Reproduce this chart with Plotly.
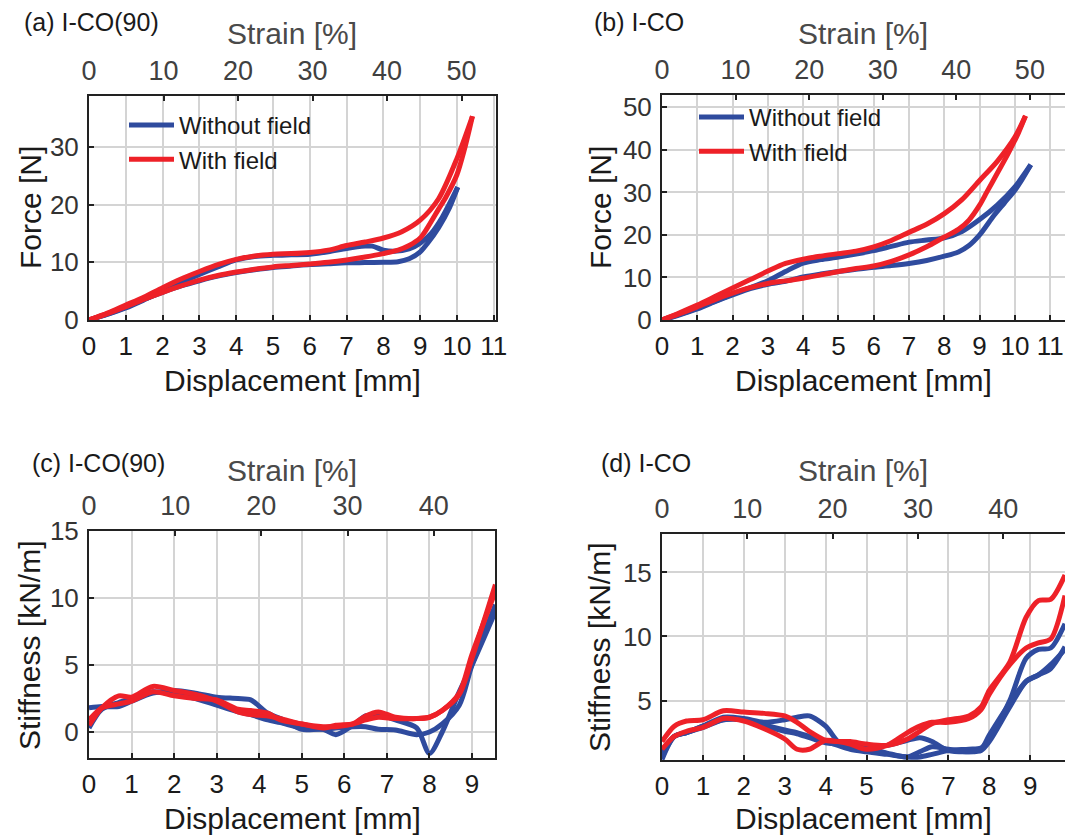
import plotly.graph_objects as go

# ---------------- data ----------------
# Panel (a) I-CO(90): force vs displacement
a_blue_load_x = [0, 0.5, 1, 1.5, 2, 2.5, 3, 3.5, 4, 4.5, 5, 5.5, 6, 6.5, 7, 7.5, 7.7, 8, 8.3, 8.7, 9, 9.3, 9.6, 10.02]
a_blue_load_y = [0, 1.0, 2.1, 3.5, 5.0, 6.5, 7.9, 9.2, 10.4, 11.0, 11.2, 11.3, 11.4, 11.8, 12.4, 12.8, 12.8, 12.1, 11.9, 12.3, 13.3, 15.0, 17.8, 23.0]
a_blue_unload_x = [10.02, 9.8, 9.5, 9.2, 9, 8.7, 8.4, 8, 7.5, 7, 6.5, 6, 5.5, 5, 4.5, 4, 3.5, 3, 2.5, 2, 1.5, 1, 0.5, 0]
a_blue_unload_y = [23.0, 19.5, 16.0, 13.3, 11.8, 10.6, 10.1, 10.0, 9.95, 9.9, 9.75, 9.6, 9.35, 9.1, 8.7, 8.2, 7.6, 6.8, 5.9, 4.8, 3.6, 2.2, 1.0, 0]
a_red_load_x = [0, 0.5, 1, 1.5, 2, 2.5, 3, 3.5, 4, 4.5, 5, 5.5, 6, 6.5, 7, 7.5, 8, 8.5, 9, 9.5, 10, 10.42]
a_red_load_y = [0, 1.2, 2.6, 4.0, 5.6, 7.1, 8.4, 9.6, 10.5, 11.1, 11.4, 11.5, 11.7, 12.1, 12.9, 13.5, 14.2, 15.3, 17.3, 21.0, 28.0, 35.3]
a_red_unload_x = [10.42, 10.2, 10, 9.7, 9.5, 9.2, 9, 8.7, 8.4, 8, 7.5, 7, 6.5, 6, 5.5, 5, 4.5, 4, 3.5, 3, 2.5, 2, 1.5, 1, 0.5, 0]
a_red_unload_y = [35.3, 29.5, 25.2, 21.3, 19.2, 16.0, 14.2, 12.9, 12.1, 11.5, 10.9, 10.4, 10.0, 9.7, 9.45, 9.2, 8.8, 8.3, 7.7, 6.9, 5.9, 4.8, 3.6, 2.3, 1.1, 0]

# Panel (b) I-CO: force vs displacement
b_blue_load_x = [0, 0.5, 1, 1.5, 2, 2.5, 3, 3.5, 4, 4.5, 5, 5.5, 6, 6.5, 7, 7.5, 8, 8.5, 9, 9.5, 10, 10.45]
b_blue_load_y = [0, 1.3, 2.8, 4.4, 6.1, 7.6, 9.2, 11.4, 13.4, 14.2, 14.8, 15.5, 16.3, 17.3, 18.3, 18.8, 19.3, 20.8, 23.6, 27.0, 31.3, 36.5]
b_blue_unload_x = [10.45, 10.2, 10, 9.7, 9.4, 9, 8.7, 8.4, 8, 7.5, 7, 6.5, 6, 5.5, 5, 4.5, 4, 3.5, 3, 2.5, 2, 1.5, 1, 0.5, 0]
b_blue_unload_y = [36.5, 33.0, 30.5, 27.5, 24.5, 20.0, 17.5, 16.0, 15.0, 14.0, 13.3, 12.8, 12.4, 11.9, 11.4, 10.8, 10.1, 9.1, 8.4, 7.4, 5.9, 4.3, 2.6, 1.2, 0]
b_red_load_x = [0, 0.5, 1, 1.5, 2, 2.5, 3, 3.5, 4, 4.5, 5, 5.5, 6, 6.5, 7, 7.5, 8, 8.5, 9, 9.5, 10, 10.3]
b_red_load_y = [0, 1.7, 3.5, 5.5, 7.5, 9.5, 11.5, 13.3, 14.3, 15.0, 15.6, 16.2, 17.2, 18.7, 20.6, 22.5, 25.0, 28.3, 32.8, 37.3, 43.0, 48.0]
b_red_unload_x = [10.3, 10.1, 9.8, 9.5, 9.2, 9, 8.7, 8.4, 8, 7.5, 7, 6.5, 6, 5.5, 5, 4.5, 4, 3.5, 3, 2.5, 2, 1.5, 1, 0.5, 0]
b_red_unload_y = [48.0, 44.0, 39.0, 34.5, 30.0, 27.0, 23.5, 21.3, 19.5, 17.2, 15.3, 13.8, 12.7, 12.1, 11.4, 10.6, 9.8, 9.2, 8.6, 7.6, 6.3, 4.8, 3.1, 1.5, 0]

# Panel (c) I-CO(90): stiffness vs displacement
c_x = [0, 0.3, 0.7, 1, 1.5, 2, 2.5, 3, 3.5, 3.8, 4.2, 4.5, 5, 5.5, 5.8, 6.2, 6.5, 6.8, 7.2, 7.7, 8, 8.3, 8.7, 9, 9.55]
c_blue1_y = [1.8, 1.9, 1.9, 2.3, 2.9, 3.1, 2.9, 2.6, 2.5, 2.4, 1.4, 1.0, 0.2, 0.2, -0.2, 0.5, 1.2, 1.3, 0.9, 0.3, -1.6, 0.0, 3.0, 5.0, 9.0]
c_blue2_y = [0.3, 1.7, 2.2, 2.5, 3.0, 2.8, 2.5, 2.0, 1.5, 1.3, 0.9, 0.7, 0.3, 0.2, 0.3, 0.4, 0.4, 0.2, 0.15, -0.2, 0.0, 0.6, 2.0, 5.0, 9.5]
c_red1_y = [0.5, 1.8, 2.7, 2.6, 3.4, 3.1, 2.8, 2.3, 1.5, 1.3, 1.2, 1.0, 0.6, 0.4, 0.4, 0.6, 1.2, 1.5, 1.1, 1.0, 1.1, 1.6, 2.8, 5.5, 11.0]
c_red2_y = [0.9, 1.8, 2.1, 2.3, 3.0, 2.7, 2.5, 2.4, 1.7, 1.6, 1.4, 0.9, 0.6, 0.3, 0.5, 0.6, 0.9, 1.1, 1.0, 1.0, 1.1, 1.6, 2.9, 5.8, 10.5]

# Panel (d) I-CO: stiffness vs displacement
d_x = [0, 0.3, 0.6, 1, 1.5, 2, 2.5, 3, 3.3, 3.6, 4, 4.3, 4.6, 5, 5.5, 6, 6.3, 6.6, 7, 7.5, 7.8, 8, 8.5, 8.9, 9.2, 9.5, 9.85]
d_blue1_y = [0.4, 2.2, 2.5, 3.0, 3.7, 3.6, 3.3, 3.5, 3.7, 3.8, 3.0, 1.8, 1.3, 1.4, 1.5, 1.9, 2.1, 1.8, 1.1, 1.0, 1.1, 1.8, 4.5, 6.5, 7.0, 7.8, 9.0]
d_blue2_y = [1.0, 2.2, 2.5, 2.9, 3.5, 3.5, 3.1, 2.7, 2.5, 2.2, 1.8, 1.5, 1.2, 1.0, 0.8, 0.6, 0.6, 0.8, 1.1, 1.2, 1.3, 2.0, 5.0, 8.3, 9.0, 9.1, 11.0]
d_blue3_y = [0.6, 2.2, 2.5, 3.0, 3.5, 3.5, 3.0, 2.6, 2.4, 2.1, 1.7, 1.6, 1.5, 1.3, 0.9, 0.6, 1.0, 1.4, 1.2, 1.0, 1.2, 2.3, 4.8, 6.5, 7.0, 7.5, 9.2]
d_red1_y = [1.8, 3.0, 3.4, 3.5, 4.2, 4.1, 4.0, 3.8, 3.3, 2.6, 1.9, 1.8, 1.8, 1.6, 1.5, 2.0, 2.6, 3.2, 3.5, 3.8, 4.5, 5.8, 8.0, 11.5, 12.8, 12.9, 14.8]
d_red2_y = [1.2, 2.2, 2.6, 2.9, 3.6, 3.4, 2.8, 2.0, 1.2, 1.2, 1.9, 1.8, 1.6, 1.2, 1.5, 2.5, 3.0, 3.3, 3.3, 3.6, 4.3, 5.5, 7.8, 9.1, 9.5, 9.8, 13.2]

SERIES_NAMES = ["Without field", "With field"]
BLUE = "#2f4b9e"
RED = "#ee2128"

# strain conversion: sample heights (mm)
H_90 = 20.25
H_CO = 20.85

# axis ranges
a_xmax, a_yrange = 11.06, [0, 38.8]
b_xmax, b_yrange = 11.42, [0, 52.9]
c_xmax, c_yrange = 9.54, [-1.94, 15]
d_xmax, d_yrange = 9.85, [0.36, 18.0]

W, Hh = 1065, 837

fig = go.Figure()

LW = 5

def add(x, y, color, xa, ya, name=None, legend=None, show=False):
    fig.add_trace(go.Scatter(
        x=x, y=y, mode="lines", line=dict(color=color, width=LW, shape="spline", smoothing=0.8),
        xaxis=xa, yaxis=ya, name=name if name else "", showlegend=show,
        legend=legend if legend else "legend", hoverinfo="skip"))

# (a)
add(a_blue_load_x, a_blue_load_y, BLUE, "x", "y", SERIES_NAMES[0], "legend", True)
add(a_blue_unload_x, a_blue_unload_y, BLUE, "x", "y")
add(a_red_load_x, a_red_load_y, RED, "x", "y", SERIES_NAMES[1], "legend", True)
add(a_red_unload_x, a_red_unload_y, RED, "x", "y")
# (b)
add(b_blue_load_x, b_blue_load_y, BLUE, "x2", "y2", SERIES_NAMES[0], "legend2", True)
add(b_blue_unload_x, b_blue_unload_y, BLUE, "x2", "y2")
add(b_red_load_x, b_red_load_y, RED, "x2", "y2", SERIES_NAMES[1], "legend2", True)
add(b_red_unload_x, b_red_unload_y, RED, "x2", "y2")
# (c)
add(c_x, c_blue1_y, BLUE, "x3", "y3")
add(c_x, c_blue2_y, BLUE, "x3", "y3")
add(c_x, c_red1_y, RED, "x3", "y3")
add(c_x, c_red2_y, RED, "x3", "y3")
# (d)
add(d_x, d_blue1_y, BLUE, "x4", "y4")
add(d_x, d_blue2_y, BLUE, "x4", "y4")
add(d_x, d_blue3_y, BLUE, "x4", "y4")
add(d_x, d_red1_y, RED, "x4", "y4")
add(d_x, d_red2_y, RED, "x4", "y4")

FONT = "Liberation Sans, Arial, sans-serif"
GRID = "#d4d4d4"
LINE = "#222222"

def px_x(a, b):
    return [a / W, b / W]

def px_y(top, bottom):
    return [1 - bottom / Hh, 1 - top / Hh]

dom = {
    1: (px_x(89, 496), px_y(96, 320)),
    2: (px_x(662, 1065), px_y(95, 320)),
    3: (px_x(89, 495), px_y(531, 758)),
    4: (px_x(662, 1065), px_y(534, 760)),
}
xmaxes = {1: a_xmax, 2: b_xmax, 3: c_xmax, 4: d_xmax}
yranges = {1: a_yrange, 2: b_yrange, 3: c_yrange, 4: d_yrange}
heights = {1: H_90, 2: H_CO, 3: H_90, 4: H_CO}
xticks = {1: list(range(0, 12)), 2: list(range(0, 12)), 3: list(range(0, 10)), 4: list(range(0, 10))}
yticks = {1: [0, 10, 20, 30], 2: [0, 10, 20, 30, 40, 50], 3: [0, 5, 10, 15], 4: [5, 10, 15]}
strain_ticks = {1: [0, 10, 20, 30, 40, 50], 2: [0, 10, 20, 30, 40, 50], 3: [0, 10, 20, 30, 40], 4: [0, 10, 20, 30, 40]}

# invisible carrier traces so that the top strain axes are drawn
for i in range(1, 5):
    sx = "" if i == 1 else str(i)
    smax = xmaxes[i] / heights[i] * 100
    fig.add_trace(go.Scatter(x=[0, smax], y=[None, None], mode="lines", showlegend=False,
                             xaxis="x" + str(i + 4), yaxis="y" + sx, hoverinfo="skip",
                             line=dict(width=0)))

lay = {}
for i in range(1, 5):
    sx = "" if i == 1 else str(i)
    xd, yd = dom[i]
    lay["xaxis" + sx] = dict(
        domain=xd, range=[0, xmaxes[i]], anchor="y" + sx,
        tickvals=xticks[i], ticktext=[str(v) for v in xticks[i]],
        showgrid=True, gridcolor=GRID, gridwidth=2,
        showline=True, linecolor=LINE, linewidth=2, mirror=True,
        ticks="inside", ticklen=5, tickwidth=2, tickcolor=LINE,
        tickfont=dict(family=FONT, size=26, color="#1a1a1a"),
        ticklabelstandoff=2, zeroline=False, automargin=False, fixedrange=True)
    lay["yaxis" + sx] = dict(
        domain=yd, range=yranges[i], anchor="x" + sx,
        tickvals=yticks[i], ticktext=[str(v) for v in yticks[i]],
        showgrid=True, gridcolor=GRID, gridwidth=2,
        showline=True, linecolor=LINE, linewidth=2, mirror=True,
        ticks="inside", ticklen=5, tickwidth=2, tickcolor=LINE,
        tickfont=dict(family=FONT, size=26, color="#333333"),
        ticklabelstandoff=3, zeroline=False, automargin=False, fixedrange=True)
    # top strain axis
    lay["xaxis" + str(i + 4)] = dict(
        overlaying="x" + sx, anchor="y" + sx, side="top",
        range=[0, xmaxes[i] / heights[i] * 100],
        tickvals=strain_ticks[i], ticktext=[str(v) for v in strain_ticks[i]],
        showgrid=False, showline=False, zeroline=False,
        ticks="inside", ticklen=5, tickwidth=2, tickcolor=LINE,
        tickfont=dict(family=FONT, size=27, color="#404040"),
        ticklabelstandoff=10, automargin=False, fixedrange=True)

# axis titles and panel labels (pixel positions)
ann = []
def text(x, y, s, size, color, angle=0, xanchor="center"):
    ann.append(dict(x=x / W, y=1 - y / Hh, xref="paper", yref="paper", text=s, showarrow=False,
                    font=dict(family=FONT, size=size, color=color), textangle=angle,
                    xanchor=xanchor, yanchor="middle"))

TITLE_C = "#1a1a1a"
STRAIN_C = "#4a4a4a"
text(22, 22, "(a) I-CO(90)", 25, "#1a1a1a", xanchor="left")
text(592, 22, "(b) I-CO", 25, "#1a1a1a", xanchor="left")
text(30, 463, "(c) I-CO(90)", 25, "#1a1a1a", xanchor="left")
text(599, 463, "(d) I-CO", 25, "#1a1a1a", xanchor="left")
for cx, ty, by in [(292, 33, 381), (863, 33, 381), (292, 470, 818), (863, 470, 818)]:
    text(cx, ty, "Strain [%]", 30, STRAIN_C)
    text(cx, by, "Displacement [mm]", 30, TITLE_C)
text(30, 208, "Force [N]", 30, TITLE_C, angle=-90)
text(600, 208, "Force [N]", 30, TITLE_C, angle=-90)
text(29, 645, "Stiffness [kN/m]", 30, TITLE_C, angle=-90)
text(599, 647, "Stiffness [kN/m]", 30, TITLE_C, angle=-90)

fig.update_layout(
    width=W, height=Hh,
    margin=dict(l=0, r=0, t=0, b=0),
    paper_bgcolor="white", plot_bgcolor="white",
    font=dict(family=FONT),
    annotations=ann,
    legend=dict(x=124 / W, y=1 - 103 / Hh, xanchor="left", yanchor="top",
                bgcolor="rgba(0,0,0,0)", font=dict(family=FONT, size=24, color="#1a1a1a"),
                itemwidth=45, tracegroupgap=0),
    legend2=dict(x=694 / W, y=1 - 95 / Hh, xanchor="left", yanchor="top",
                 bgcolor="rgba(0,0,0,0)", font=dict(family=FONT, size=24, color="#1a1a1a"),
                 itemwidth=45, tracegroupgap=0),
    **lay,
)

fig.write_html("out.html")
